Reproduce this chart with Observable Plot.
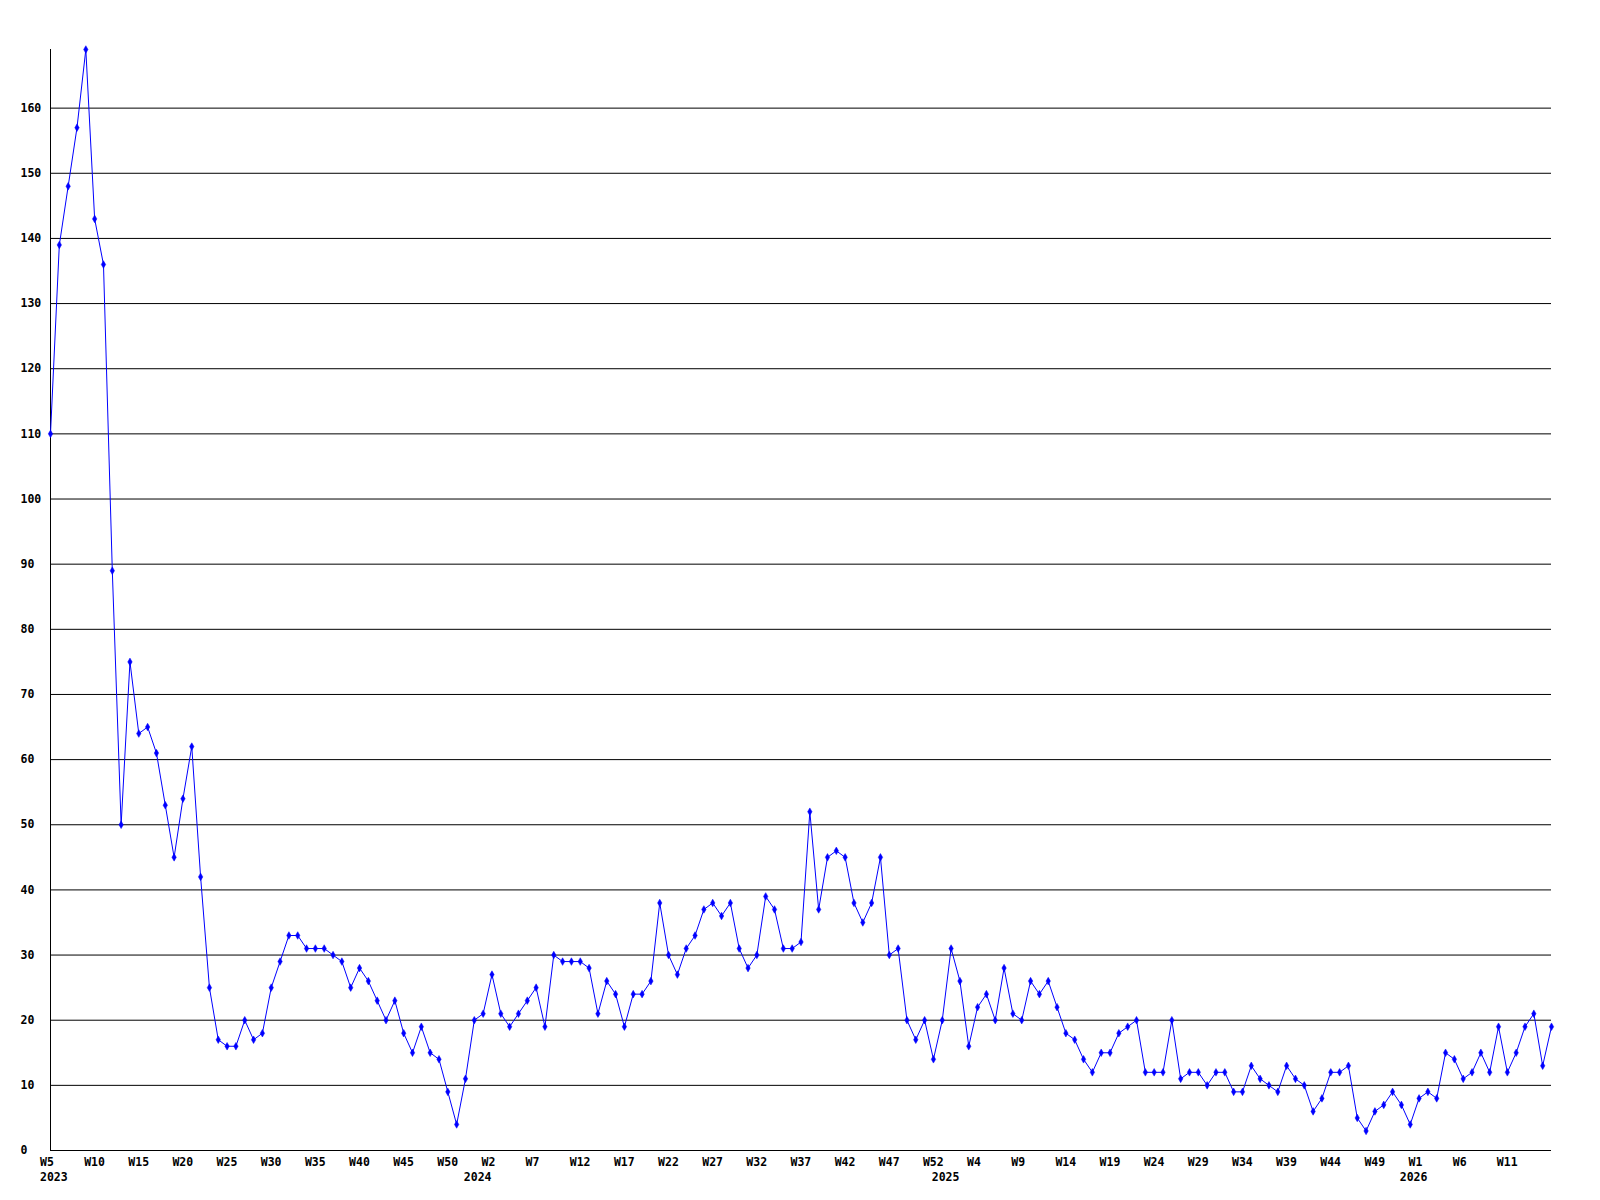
<!DOCTYPE html>
<html><head><meta charset="utf-8">
<script src="https://cdn.jsdelivr.net/npm/d3@7"></script>
<script src="https://cdn.jsdelivr.net/npm/@observablehq/plot@0.6"></script>
<style>
html,body{margin:0;padding:0;background:#fff;}
#chart svg{display:block;}
</style></head><body><div id="chart"></div>
<script>
const years = [2023, 2024, 2025, 2026];
const firstWeek = [5, 1, 1, 1];
const values2023 = [110,139,148,157,169,143,136,89,50,75,64,65,61,53,45,54,62,42,25,17,16,16,20,17,18,25,29,33,33,31,31,31,30,29,25,28,26,23,20,23,18,15,19,15,14,9,4,11,20];
const values2024 = [21,27,21,19,21,23,25,19,30,29,29,29,28,21,26,24,19,24,24,26,38,30,27,31,33,37,38,36,38,31,28,30,39,37,31,31,32,52,37,45,46,45,38,35,38,45,30,31,20,17,20,14,20];
const values2025 = [31,26,16,22,24,20,28,21,20,26,24,26,22,18,17,14,12,15,15,18,19,20,12,12,12,20,11,12,12,10,12,12,9,9,13,11,10,9,13,11,10,6,8,12,12,13,5,3,6,7,9,7,4];
const values2026 = [8,9,8,15,14,11,12,15,12,19,12,15,19,21,13,19];
const yTicks = [0,10,20,30,40,50,60,70,80,90,100,110,120,130,140,150,160];
const xTickLabels = ["W5","W10","W15","W20","W25","W30","W35","W40","W45","W50",
  "W2","W7","W12","W17","W22","W27","W32","W37","W42","W47","W52",
  "W4","W9","W14","W19","W24","W29","W34","W39","W44","W49",
  "W1","W6","W11"];
const yearLabels = ["2023","2024","2025","2026"];

const series = [values2023, values2024, values2025, values2026];
const rows = [];
series.forEach((vals, k) => vals.forEach((v, j) => rows.push({i: rows.length, year: years[k], week: firstWeek[k] + j, value: v})));
const xTicks = xTickLabels.map((label, k) => ({i: k * 5, label}));
const yearMarks = years.map((y, k) => {
  const first = rows.find(r => r.year === y).i;
  return {i: Math.max(0, first - 1), label: yearLabels[k]};
});

const chart = Plot.plot({
  width: 1600, height: 1200,
  marginLeft: 50, marginRight: 49, marginTop: 49, marginBottom: 50,
  x: {domain: [0, rows.length - 1], axis: null},
  y: {domain: [0, d3.max(rows, d => d.value)], axis: null},
  style: {fontFamily: "'DejaVu Sans Mono', monospace", fontWeight: "bold", fontSize: "11.5px", background: "white", color: "black"},
  marks: [
    Plot.ruleY(yTicks, {stroke: "black", strokeWidth: 1}),
    Plot.ruleX([0], {stroke: "black", strokeWidth: 1}),
    Plot.line(rows, {x: "i", y: "value", stroke: "#0000ff", strokeWidth: 1}),
    Plot.dot(rows, {x: "i", y: "value", symbol: "diamond", r: 2.3, fill: "#0000ff", stroke: "#0000ff", strokeWidth: 0.5}),
    Plot.text(yTicks, {y: d => d, text: d => String(d), frameAnchor: "left", lineAnchor: "middle", textAnchor: "start", dx: -30, fill: "black"}),
    Plot.text(xTicks, {x: "i", text: "label", frameAnchor: "bottom", lineAnchor: "middle", textAnchor: "start", dx: -10.5, dy: 12, fill: "black"}),
    Plot.text(yearMarks, {x: "i", text: "label", frameAnchor: "bottom", lineAnchor: "middle", textAnchor: "start", dx: -10.5, dy: 27, fill: "black"})
  ]
});
document.getElementById("chart").appendChild(chart);
</script>
</body></html>
